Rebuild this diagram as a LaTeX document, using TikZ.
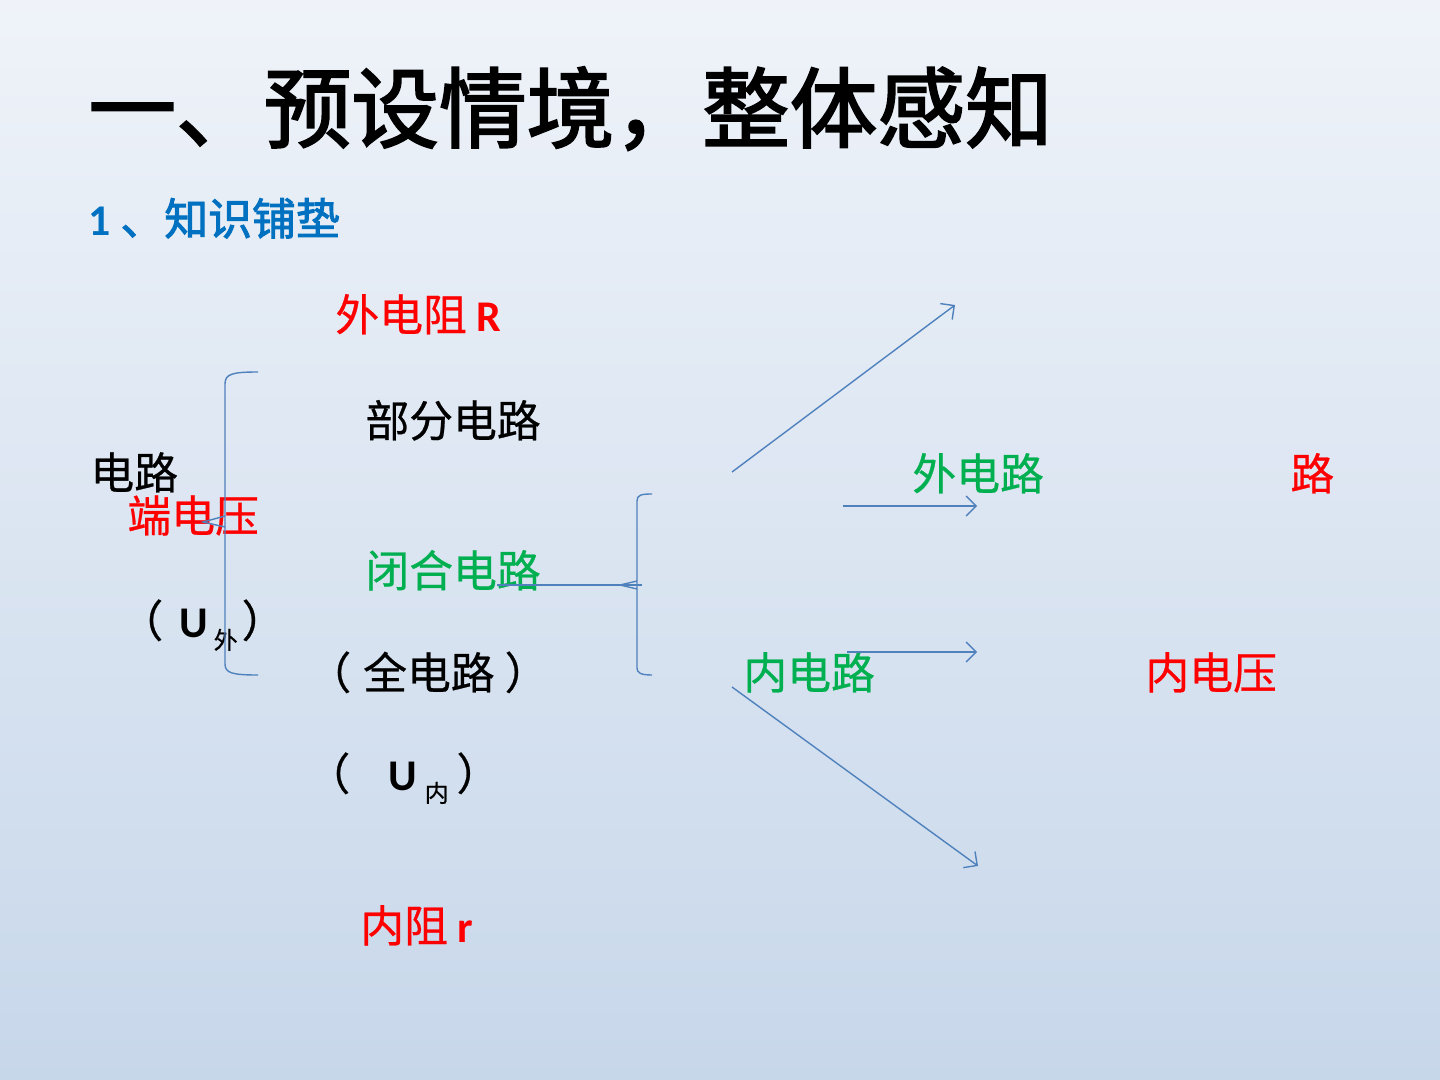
\documentclass[tikz,border=0pt]{standalone}
\usepackage{fontspec}
\setmainfont{Carlito}
\newfontfamily\lat{Carlito}
\newfontfamily\cjk[FakeBold=0.6]{Noto Sans CJK SC}
\newfontfamily\cjkhead[FakeBold=2.2]{Noto Sans CJK SC}
\usetikzlibrary{arrows.meta}

\definecolor{bgtop}{HTML}{EFF3F9}
\definecolor{bgbot}{HTML}{C7D7EA}
\definecolor{linkblue}{HTML}{4F81BD}
\definecolor{headblue}{HTML}{0070C0}
\definecolor{pptred}{HTML}{FF0000}
\definecolor{pptgreen}{HTML}{00B050}

\begin{document}
\begin{tikzpicture}[
    x=0.017639cm, y=-0.017639cm,
    term/.style={
        anchor=base west,
        inner sep=0pt,
        font=\fontsize{22}{26}\selectfont\cjk
    },
    heading/.style={
        anchor=base west,
        inner sep=0pt,
        font=\fontsize{44}{52}\selectfont\cjkhead
    },
    bracket/.style={
        draw=linkblue,
        line width=0.7pt
    },
    arrow/.style={
        -{Straight Barb[length=5pt,width=10pt]},
        draw=linkblue,
        line width=0.7pt
    }
]

% Background
\useasboundingbox (0,0) rectangle (1440,1080);
\shade[top color=bgtop, bottom color=bgbot] (0,0) rectangle (1440,1080);

% Title
\node[heading] (title) at (88,141) {一、预设情境，整体感知};
\node[term, text=headblue, font=\fontsize{22}{26}\selectfont\cjkhead] (sub) at (88,235)
    {{\lat\bfseries 1 }、知识铺垫};

% Left column
\node[term] (circuit) at (90,489) {电路};
\node[term, text=pptred] (termv) at (127,532) {端电压};
\node[term] (uout) at (119,637)
    {（\hspace{8pt}{\lat\bfseries U}\hspace{3pt}\raisebox{-6pt}{\fontsize{12}{12}\selectfont 外}\hspace{2pt}）};

% Middle column
\node[term, text=pptred] (rout) at (335,331) {外电阻 {\lat\bfseries R}};
\node[term] (part) at (365,437) {部分电路};
\node[term, text=pptgreen] (closed) at (365,587) {闭合电路};
\node[term] (full) at (307,689) {（\hspace{6pt}全电路\hspace{5pt}）};
\node[term] (uin) at (306,790)
    {（\hspace{19pt}{\lat\bfseries U}\hspace{4pt}\raisebox{-6pt}{\fontsize{12}{12}\selectfont 内}\hspace{4pt}）};
\node[term, text=pptred] (rin) at (360,942) {内阻 {\lat\bfseries r}};

% Right column
\node[term, text=pptgreen] (outer) at (912,490) {外电路};
\node[term, text=pptred] (road) at (1290,490) {路};
\node[term, text=pptgreen] (inner) at (743,689) {内电路};
\node[term, text=pptred] (vin) at (1145,689) {内电压};

% Brackets
\draw[bracket] (258,372) .. controls (232,372) and (225,374) .. (225,384)
    -- (225,664) .. controls (225,673) and (232,675) .. (258,675);
\draw[bracket] (225,516) -- (203,522) -- (225,527);
\draw[bracket] (652,494) .. controls (641,494) and (637,495) .. (637,501)
    -- (637,668) .. controls (637,673) and (641,675) .. (652,675);
\draw[bracket] (637,581) -- (620,585) -- (637,589);

% Connections
\coordinate (link0) at (497,585);
\coordinate (link1) at (642,585);
\draw[bracket] (link0) -- (link1);

\coordinate (up0) at (732,472);
\coordinate (up1) at (955,305);
\coordinate (mid0) at (843,506);
\coordinate (mid1) at (977,506);
\coordinate (low0) at (847,652);
\coordinate (low1) at (977,652);
\coordinate (dn0) at (732,687);
\coordinate (dn1) at (978,866);

\draw[arrow] (up0) -- (up1);
\draw[arrow] (mid0) -- (mid1);
\draw[arrow] (low0) -- (low1);
\draw[arrow] (dn0) -- (dn1);

\end{tikzpicture}
\end{document}
